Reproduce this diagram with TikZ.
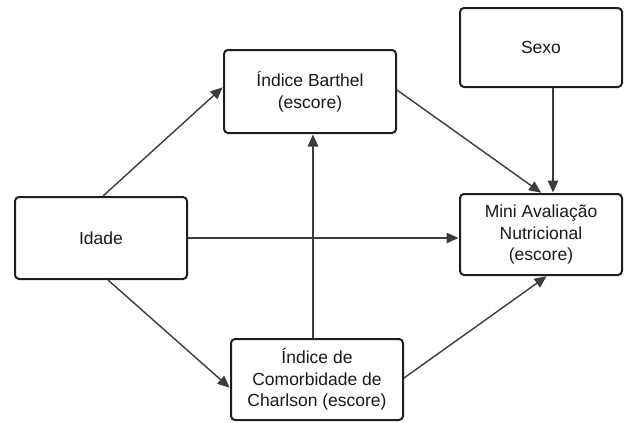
\documentclass[tikz,border=0pt]{standalone}
\usepackage{fontspec}
\setmainfont{Liberation Sans}
\usetikzlibrary{arrows.meta}
\definecolor{boxline}{HTML}{1E1E1E}
\definecolor{arrowline}{HTML}{3C3C3C}
\definecolor{textcol}{HTML}{1A1A1A}
\tikzset{
  varbox/.style={draw=boxline, line width=2pt, rounded corners=4pt, fill=white,
    align=center, text=textcol, inner sep=2pt,
    font=\fontsize{17.5}{21.5}\selectfont},
  link/.style={draw=arrowline, line width=1.4pt,
    -{Triangle[length=12pt,width=10.5pt]}, shorten >=0.5pt}
}
\begin{document}
\begin{tikzpicture}[x=1pt,y=-1pt]
  \useasboundingbox (0,0) rectangle (624,423);
  \node[varbox, minimum width=172pt, minimum height=82pt] (idade) at (101,238) {Idade};
  \node[varbox, minimum width=172pt, minimum height=83pt] (barthel) at (310,91.5) {Índice Barthel\\(escore)};
  \node[varbox, minimum width=162pt, minimum height=79pt] (sexo) at (541,47.5) {Sexo};
  \node[varbox, minimum width=162pt, minimum height=81pt] (man) at (541,234.5) {Mini Avaliação\\Nutricional\\(escore)};
  \node[varbox, minimum width=172pt, minimum height=81pt] (charlson) at (317,379.5) {Índice de\\Comorbidade de\\Charlson (escore)};

  % causal paths
  \draw[link] ([xshift=2pt]idade.north) -- ([yshift=4.5pt]barthel.west);
  \draw[link] (idade.east) -- (idade.east -| man.west);
  \draw[link] ([xshift=7pt]idade.south) -- ([yshift=-8.5pt]charlson.west);
  \draw[link] ([xshift=-4pt]charlson.north) -- ([xshift=3pt]barthel.south);
  \draw[link] ([yshift=1.5pt]barthel.east) -- ([xshift=0.5pt]man.north);
  \draw[link] ([xshift=12pt]sexo.south) -- ([xshift=12pt]man.north);
  \draw[link] ([yshift=1.5pt]charlson.east) -- ([xshift=6pt]man.south);
\end{tikzpicture}
\end{document}
